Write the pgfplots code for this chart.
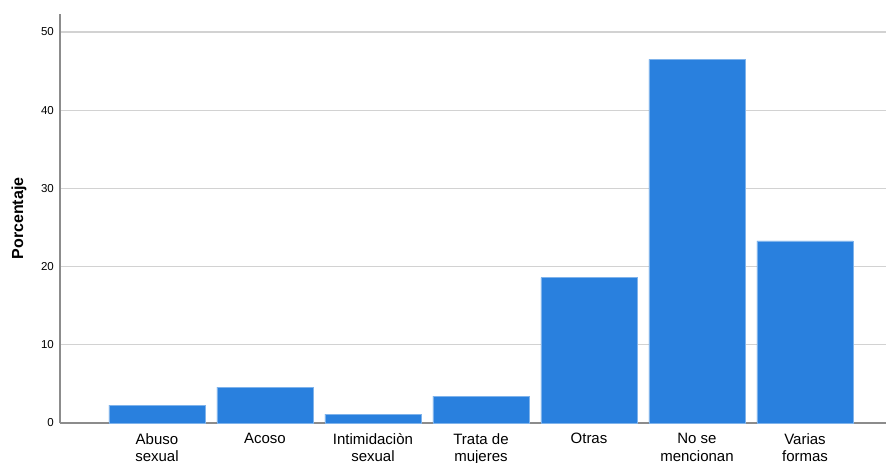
\documentclass[border=0pt]{standalone}
\usepackage{fontspec}
\setmainfont{Liberation Sans}
\usepackage{pgfplots}
\pgfplotsset{compat=1.18}
\definecolor{barblue}{HTML}{2980DE}
\definecolor{gridgray}{HTML}{D2D2D2}
\definecolor{axisgray}{HTML}{8C8C8C}
\begin{document}
\begin{tikzpicture}
\useasboundingbox (-60pt,-40pt) rectangle (826pt,423pt);
\clip (-60pt,-40pt) rectangle (826pt,423pt);
\begin{axis}[
  at={(0pt,0pt)}, anchor=south west,
  scale only axis,
  width=826pt, height=409pt,
  xmin=-0.898, xmax=6.75,
  ymin=0, ymax=52.3,
  axis x line*=bottom, axis y line*=left,
  axis line style={axisgray, line width=1.3pt, -},
  xtick=data,
  xticklabels={{Abuso\\sexual},{Acoso},{Intimidaciòn\\sexual},{Trata de\\mujeres},{Otras},{No se\\mencionan},{Varias\\formas}},
  ytick={0,10,20,30,40,50},
  major tick length=0pt,
  ymajorgrids,
  major grid style={gridgray, line width=1.3pt},
  xticklabel style={font=\fontsize{15}{17.5}\selectfont, align=center, anchor=north, inner sep=0pt, yshift=-10pt},
  yticklabel style={font=\fontsize{11.5}{12}\selectfont, anchor=east, inner sep=0pt, xshift=-6pt},
  /pgf/number format/assume math mode=true,
  ylabel={\textbf{Porcentaje}},
  ylabel style={font=\fontsize{16}{17}\selectfont},
  ylabel shift=11pt,
]
\addplot[ybar, bar width=0.889, fill=barblue, draw=barblue!60!white, line width=0.5pt] coordinates {
  (0,2.3) (1,4.6) (2,1.15) (3,3.45) (4,18.6) (5,46.5) (6,23.3)
};
\end{axis}
\end{tikzpicture}
\end{document}
